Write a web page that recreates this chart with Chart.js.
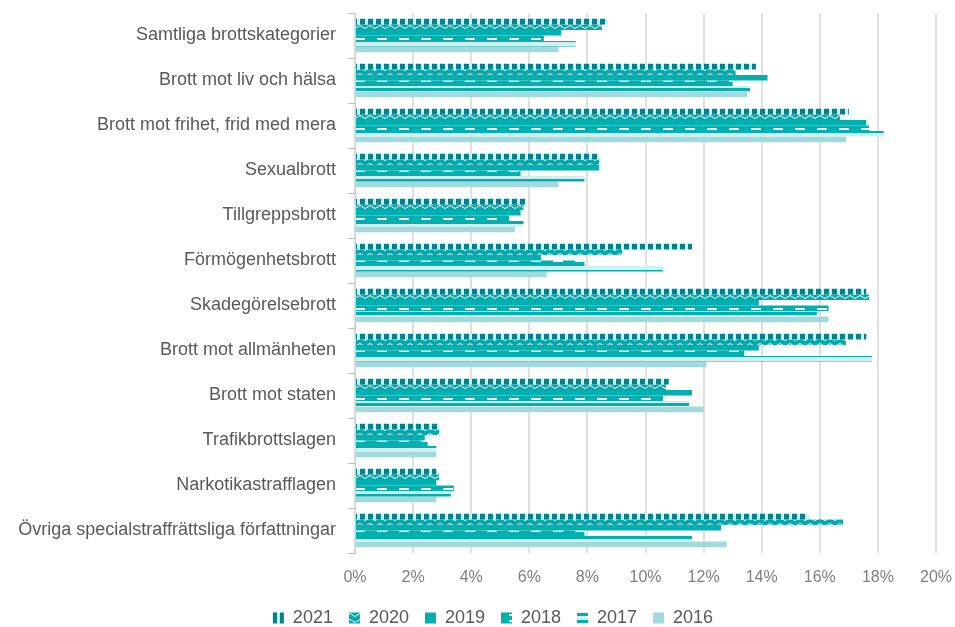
<!DOCTYPE html>
<html>
<head>
<meta charset="utf-8">
<script src="https://cdn.jsdelivr.net/npm/chart.js@4"></script>
<style>
  html, body { margin: 0; padding: 0; background: #fff; }
  #wrap { width: 955px; height: 627px; }
</style>
</head>
<body>
<div id="wrap"><canvas id="myChart" width="955" height="627"></canvas></div>
<script>
const categories = [
    'Samtliga brottskategorier',
    'Brott mot liv och hälsa',
    'Brott mot frihet, frid med mera',
    'Sexualbrott',
    'Tillgreppsbrott',
    'Förmögenhetsbrott',
    'Skadegörelsebrott',
    'Brott mot allmänheten',
    'Brott mot staten',
    'Trafikbrottslagen',
    'Narkotikastrafflagen',
    'Övriga specialstraffrättsliga författningar'
];

const years = ['2021', '2020', '2019', '2018', '2017', '2016'];

// percent values per year, same order as categories
const v2021 = [8.7, 13.8, 17.0, 8.4, 5.9, 11.6, 17.6, 17.6, 10.8, 2.9, 2.8, 15.6];
const v2020 = [8.5, 13.1, 16.7, 8.4, 5.8, 9.2, 17.7, 16.9, 10.7, 2.9, 2.9, 16.8];
const v2019 = [7.1, 14.2, 17.6, 8.4, 5.7, 6.4, 13.9, 13.9, 11.6, 2.4, 2.8, 12.6];
const v2018 = [6.5, 13.0, 17.7, 5.7, 5.3, 7.9, 16.3, 13.4, 10.6, 2.5, 3.4, 7.9];
const v2017 = [7.6, 13.6, 18.2, 7.9, 5.8, 10.6, 15.9, 17.8, 11.5, 2.8, 3.3, 11.6];
const v2016 = [7.0, 13.5, 16.9, 7.0, 5.5, 6.6, 16.3, 12.1, 12.0, 2.8, 2.8, 12.8];

const xTicks = [0, 2, 4, 6, 8, 10, 12, 14, 16, 18, 20];

const DARK = '#00838a';
const TEAL = '#00b0b0';
const LIGHT = '#d3eeee';
const PALE = '#a1d9dc';
const FONT = 'Liberation Sans, Arial, sans-serif';

function makePattern(w, h, draw) {
    const c = document.createElement('canvas');
    c.width = w;
    c.height = h;
    const g = c.getContext('2d');
    draw(g);
    return g.createPattern(c, 'repeat');
}

const p2021 = makePattern(8, 8, g => {
    g.fillStyle = LIGHT; g.fillRect(0, 0, 8, 8);
    g.fillStyle = DARK; g.fillRect(0, 0, 5, 8);
});
const p2020 = makePattern(10, 6, g => {
    g.fillStyle = '#00aab0'; g.fillRect(0, 0, 10, 6);
    g.strokeStyle = '#ffffff'; g.lineWidth = 1;
    g.beginPath(); g.moveTo(0, 1.5); g.lineTo(5, 4.5); g.lineTo(10, 1.5); g.stroke();
});
const p2018 = makePattern(22, 6, g => {
    g.fillStyle = TEAL; g.fillRect(0, 0, 22, 6);
    g.fillStyle = '#ffffff'; g.fillRect(3, 2, 10, 2);
});
const p2017 = makePattern(4, 7, g => {
    g.fillStyle = LIGHT; g.fillRect(0, 0, 4, 4);
    g.fillStyle = TEAL; g.fillRect(0, 4, 4, 3);
});

const seriesValues = [v2021, v2020, v2019, v2018, v2017, v2016];
const fills = [p2021, p2020, TEAL, p2018, p2017, PALE];

const data = {
    labels: categories,
    datasets: years.map((y, i) => ({
        label: y,
        data: seriesValues[i],
        backgroundColor: fills[i],
        borderWidth: 0,
        barPercentage: 1.0,
        categoryPercentage: 0.74
    }))
};

// legend in the original sits a bit right of the canvas centre
const legendShift = {
    id: 'legendShift',
    afterLayout(chart) {
        chart.legend.left += 18;
        chart.legend.right += 18;
    }
};

const config = {
    type: 'bar',
    data: data,
    plugins: [legendShift],
    options: {
        indexAxis: 'y',
        responsive: false,
        animation: false,
        layout: {
            padding: { left: 14, right: 19, top: 13, bottom: -10 }
        },
        plugins: {
            legend: {
                position: 'bottom',
                labels: {
                    boxWidth: 11,
                    boxHeight: 11,
                    padding: 16,
                    color: '#595959',
                    font: { family: FONT, size: 18 }
                }
            },
            tooltip: { enabled: false }
        },
        scales: {
            x: {
                min: 0,
                max: 20,
                afterBuildTicks: function(scale) {
                    scale.ticks = xTicks.map(v => ({ value: v }));
                },
                afterFit: function(scale) {
                    scale.height = 40;
                    scale.paddingLeft = 0;
                    scale.paddingRight = 0;
                },
                ticks: {
                    padding: 15,
                    maxRotation: 0,
                    color: '#7f7f7f',
                    font: { family: FONT, size: 16 },
                    callback: function(value) { return value + '%'; }
                },
                grid: {
                    color: '#e0e0e0',
                    lineWidth: 2,
                    drawTicks: false
                },
                border: { display: false }
            },
            y: {
                afterFit: function(scale) {
                    scale.width = 341;
                    scale.paddingTop = 0;
                    scale.paddingBottom = 0;
                },
                ticks: {
                    padding: 12,
                    color: '#595959',
                    font: { family: FONT, size: 18 }
                },
                grid: {
                    offset: true,
                    drawOnChartArea: false,
                    drawTicks: true,
                    tickLength: 7,
                    color: '#bfbfbf'
                },
                border: { display: true, color: '#d0d0d0', width: 1 }
            }
        }
    }
};

const ctx = document.getElementById('myChart').getContext('2d');
const myChart = new Chart(ctx, config);
</script>
</body>
</html>
